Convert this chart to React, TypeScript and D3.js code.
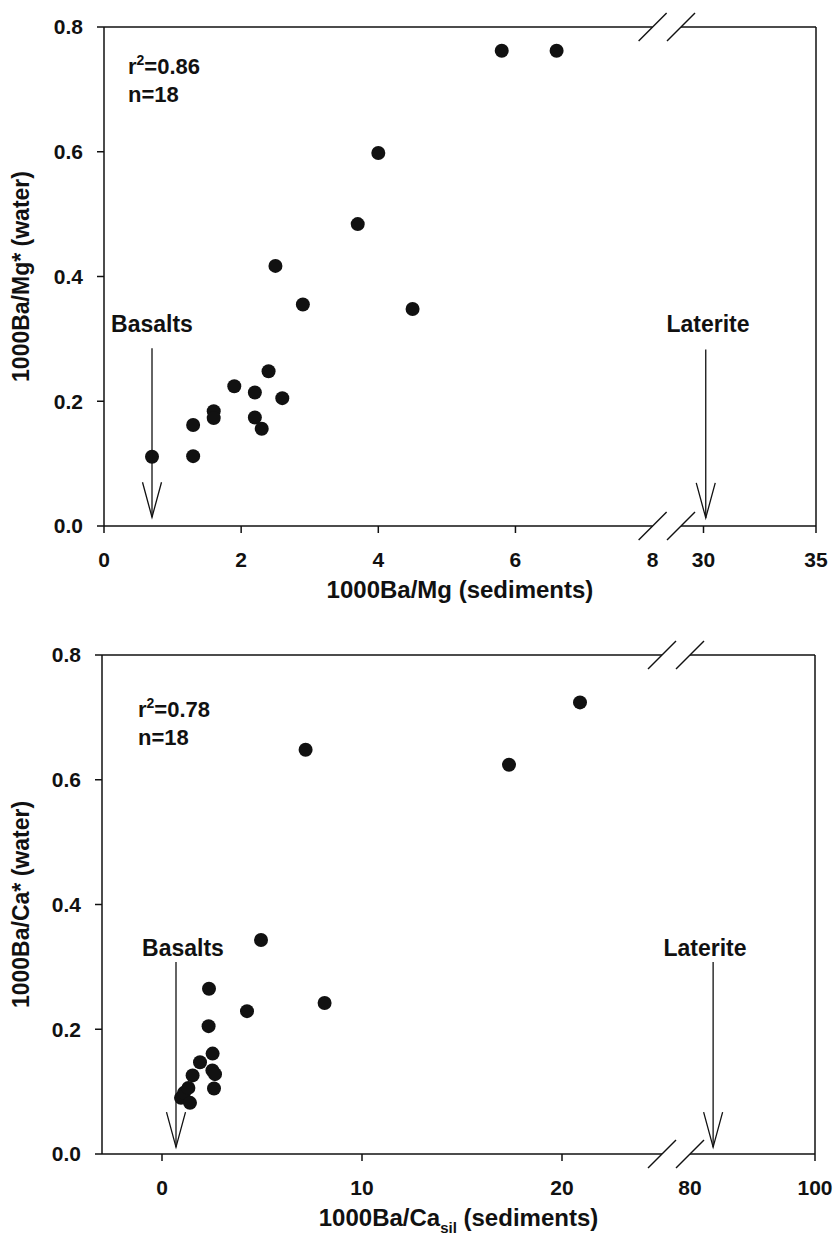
import React, { useEffect, useRef } from 'react';
import * as d3 from 'd3';

// panel (a): Ba/Mg
const mgSed = [0.7, 1.3, 1.3, 1.6, 1.6, 1.9, 2.2, 2.2, 2.3, 2.4, 2.6, 2.9, 4.5, 2.5, 3.7, 4.0, 5.8, 6.6];
const mgWater = [0.111, 0.162, 0.112, 0.184, 0.173, 0.224, 0.214, 0.174, 0.156, 0.248, 0.205, 0.355, 0.348, 0.417, 0.484, 0.598, 0.762, 0.762];

// panel (b): Ba/Ca
const caSed = [0.95, 1.1, 1.4, 1.32, 1.53, 1.9, 2.52, 2.65, 2.53, 2.6, 2.33, 2.35, 4.25, 8.13, 4.95, 7.18, 17.35, 20.9];
const caWater = [0.09, 0.098, 0.082, 0.106, 0.126, 0.147, 0.134, 0.128, 0.161, 0.105, 0.205, 0.265, 0.229, 0.242, 0.343, 0.648, 0.624, 0.724];

const yTicks = [0, 0.2, 0.4, 0.6, 0.8];
const mgTicksLeft = [0, 2, 4, 6, 8];
const mgTicksRight = [30, 35];
const caTicksLeft = [0, 10, 20];
const caTicksRight = [80, 100];

// end-member arrows: [x, yStart, yEnd]
const mgBasalt = [0.7, 0.285, 0.014];
const mgLaterite = [30.1, 0.283, 0.013];
const caBasalt = [0.7, 0.308, 0.011];
const caLaterite = [83.7, 0.308, 0.011];

const FONT = "'Liberation Sans', Arial, Helvetica, sans-serif";
const INK = '#111';

interface PanelCfg {
  top: number;
  bottom: number;
  left: number;
  right: number;
  leftDomain: [number, number];
  leftEnd: number;
  rightDomain: [number, number];
  rightStart: number;
  ticksLeft: number[];
  ticksRight: number[];
  hiddenTicks: number[];
  xs: number[];
  ys: number[];
  r2: string;
  statsAt: [number, number];
  basalt: number[];
  basaltLabelX: number;
  laterite: number[];
  lateriteLabelX: number;
  labelY: number;
  xTitle: string;
  xSub?: string;
  yTitle: string;
}

const drawPanel = (svg: d3.Selection<SVGSVGElement, unknown, null, undefined>, c: PanelCfg) => {
  const g = svg.append('g');
  const xl = d3.scaleLinear().domain(c.leftDomain).range([c.left, c.leftEnd]);
  const xr = d3.scaleLinear().domain(c.rightDomain).range([c.rightStart, c.right]);
  const x = (v: number) => (v <= c.leftDomain[1] ? xl(v) : xr(v));
  const y = d3.scaleLinear().domain([0, 0.8]).range([c.bottom, c.top]);

  const line = (x1: number, y1: number, x2: number, y2: number, w = 1.5) =>
    g.append('line')
      .attr('x1', x1).attr('y1', y1).attr('x2', x2).attr('y2', y2)
      .attr('stroke', INK).attr('stroke-width', w);

  // frame, top and bottom edges broken
  line(c.left, c.top, c.left, c.bottom);
  line(c.right, c.top, c.right, c.bottom);
  [c.top, c.bottom].forEach(yy => {
    line(c.left, yy, c.leftEnd, yy);
    line(c.rightStart, yy, c.right, yy);
    [c.leftEnd, c.rightStart].forEach(bx => line(bx - 14, yy + 14, bx + 14, yy - 14, 1.4));
  });

  // y ticks
  yTicks.forEach(t => {
    line(c.left - 7, y(t), c.left, y(t));
    g.append('text')
      .attr('x', c.left - 21).attr('y', y(t))
      .attr('dy', '0.35em')
      .attr('text-anchor', 'end')
      .style('font-size', '21px')
      .text(d3.format('.1f')(t));
  });

  // x ticks
  [...c.ticksLeft, ...c.ticksRight].forEach(t => {
    if (!c.hiddenTicks.includes(t)) line(x(t), c.bottom, x(t), c.bottom + 7);
    g.append('text')
      .attr('x', x(t)).attr('y', c.bottom + 41)
      .attr('text-anchor', 'middle')
      .style('font-size', '21px')
      .text(String(t));
  });

  // points
  g.selectAll('circle.pt')
    .data(c.xs.map((v, i) => ({ x: v, y: c.ys[i] })))
    .join('circle')
    .attr('class', 'pt')
    .attr('cx', d => x(d.x))
    .attr('cy', d => y(d.y))
    .attr('r', 7)
    .attr('fill', INK);

  // end-member arrows
  const arrow = (a: number[], label: string, lx: number) => {
    const ax = x(a[0]);
    const y0 = y(a[1]);
    const y1 = y(a[2]);
    line(ax, y0, ax, y1, 1.3);
    g.append('path')
      .attr('d', `M${ax - 9.5},${y1 - 35}L${ax},${y1}L${ax + 9.5},${y1 - 35}`)
      .attr('fill', 'none').attr('stroke', INK).attr('stroke-width', 1.3);
    g.append('text')
      .attr('x', x(lx)).attr('y', y(c.labelY))
      .attr('text-anchor', 'middle')
      .style('font-size', '23px')
      .text(label);
  };
  arrow(c.basalt, 'Basalts', c.basaltLabelX);
  arrow(c.laterite, 'Laterite', c.lateriteLabelX);

  // stats
  const sx = x(c.statsAt[0]);
  const sy = y(c.statsAt[1]);
  const r2 = g.append('text').attr('x', sx).attr('y', sy).style('font-size', '22px');
  r2.append('tspan').text('r');
  r2.append('tspan').attr('dy', -9).style('font-size', '14px').text('2');
  r2.append('tspan').attr('dy', 9).text('=' + c.r2);
  g.append('text').attr('x', sx).attr('y', sy + 28).style('font-size', '22px').text('n=18');

  // axis titles
  const xt = g.append('text')
    .attr('x', (c.left + c.right) / 2).attr('y', c.bottom + 72)
    .attr('text-anchor', 'middle')
    .style('font-size', '24px');
  xt.append('tspan').text(c.xTitle);
  if (c.xSub) {
    xt.append('tspan').attr('dy', 7).style('font-size', '15px').text(c.xSub);
    xt.append('tspan').attr('dy', -7).text(' (sediments)');
  } else {
    xt.append('tspan').text(' (sediments)');
  }

  g.append('text')
    .attr('transform', `translate(${29},${(c.top + c.bottom) / 2}) rotate(-90)`)
    .attr('text-anchor', 'middle')
    .style('font-size', '23px')
    .text(c.yTitle);
};

export default function App() {
  const svgRef = useRef<SVGSVGElement>(null);

  useEffect(() => {
    if (!svgRef.current) return;
    const svg = d3.select(svgRef.current);
    svg.selectAll('*').remove();
    svg.style('font-family', FONT).style('font-weight', 'bold').attr('fill', INK);

    drawPanel(svg, {
      top: 27, bottom: 526, left: 104, right: 816,
      leftDomain: [0, 8], leftEnd: 652.6,
      rightDomain: [29, 35], rightStart: 681,
      ticksLeft: mgTicksLeft, ticksRight: mgTicksRight, hiddenTicks: [8],
      xs: mgSed, ys: mgWater,
      r2: '0.86', statsAt: [0.35, 0.725],
      basalt: mgBasalt, basaltLabelX: 0.7,
      laterite: mgLaterite, lateriteLabelX: 30.2,
      labelY: 0.311,
      xTitle: '1000Ba/Mg',
      yTitle: '1000Ba/Mg* (water)',
    });

    drawPanel(svg, {
      top: 655, bottom: 1154, left: 102, right: 815,
      leftDomain: [-3, 25], leftEnd: 662,
      rightDomain: [80, 100], rightStart: 690,
      ticksLeft: caTicksLeft, ticksRight: caTicksRight, hiddenTicks: [80],
      xs: caSed, ys: caWater,
      r2: '0.78', statsAt: [-1.2, 0.70],
      basalt: caBasalt, basaltLabelX: 1.05,
      laterite: caLaterite, lateriteLabelX: 82.4,
      labelY: 0.317,
      xTitle: '1000Ba/Ca', xSub: 'sil',
      yTitle: '1000Ba/Ca* (water)',
    });
  }, []);

  return (
    <svg
      ref={svgRef}
      width={836}
      height={1238}
      style={{ position: 'absolute', left: 0, top: 0, background: '#fff' }}
      role="img"
      aria-label="Ba ratios in water versus sediments"
    />
  );
}
